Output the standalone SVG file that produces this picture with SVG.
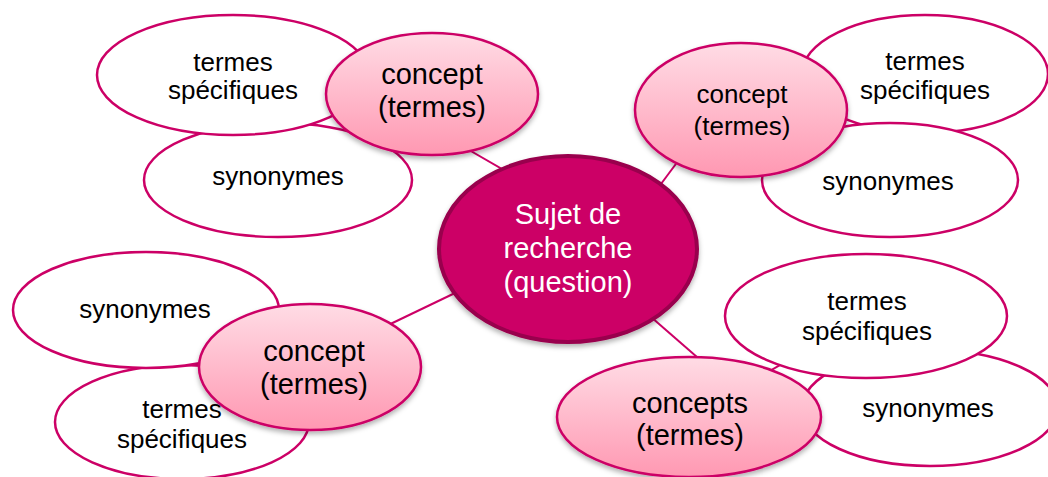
<svg xmlns="http://www.w3.org/2000/svg" width="1048" height="477" viewBox="0 0 1048 477">
<defs>
<linearGradient id="pink" x1="0" y1="0" x2="0" y2="1">
<stop offset="0" stop-color="#FFDCE5"/>
<stop offset="1" stop-color="#FF98B2"/>
</linearGradient>
<filter id="sh" x="-20%" y="-20%" width="140%" height="150%">
<feDropShadow dx="0" dy="3" stdDeviation="2.5" flood-color="#000" flood-opacity="0.3"/>
</filter>
</defs>
<style>
.sat{fill:#fff;stroke:#CC0066;stroke-width:2.5}
.con{fill:url(#pink);stroke:#CC0066;stroke-width:2.5;filter:url(#sh)}
.ctr{fill:#CC0066;stroke:#99004D;stroke-width:4;filter:url(#sh)}
.link{stroke:#CC0066;stroke-width:2;fill:none}
text{font-family:"Liberation Sans",Arial,sans-serif;text-anchor:middle;fill:#000}
.t26{font-size:26px}
.t29{font-size:29px}
.w{fill:#fff}
</style>
<rect width="1048" height="477" fill="#fff"/>
<g id="connectors">
<line class="link" x1="450" y1="139" x2="540" y2="191"/>
<line class="link" x1="655" y1="192" x2="690" y2="145"/>
<line class="link" x1="380" y1="329" x2="480" y2="281"/>
<line class="link" x1="620" y1="290" x2="705" y2="364"/>
<line class="link" x1="432" y1="94" x2="233" y2="75"/>
<line class="link" x1="432" y1="94" x2="278" y2="180"/>
<line class="link" x1="741" y1="110" x2="925" y2="74"/>
<line class="link" x1="741" y1="110" x2="890" y2="180"/>
<line class="link" x1="310" y1="367" x2="146" y2="310"/>
<line class="link" x1="310" y1="367" x2="182" y2="420"/>
<line class="link" x1="689" y1="417" x2="866" y2="316"/>
<line class="link" x1="689" y1="417" x2="928" y2="408"/>
</g>
<g id="tl-synonymes">
<ellipse class="sat" cx="278" cy="180" rx="134" ry="57"/>
<text class="t26" x="278" y="185">synonymes</text>
</g>
<g id="tl-termes">
<ellipse class="sat" cx="233" cy="75" rx="136" ry="60"/>
<text class="t26" x="233" y="71">termes</text>
<text class="t26" x="233" y="99">spécifiques</text>
</g>
<g id="tl-concept">
<ellipse class="con" cx="432" cy="94" rx="106" ry="61"/>
<text class="t29" x="432" y="84">concept</text>
<text class="t29" x="432" y="117">(termes)</text>
</g>
<g id="tr-termes">
<ellipse class="sat" cx="925" cy="74" rx="123" ry="59"/>
<text class="t26" x="925" y="70">termes</text>
<text class="t26" x="925" y="99">spécifiques</text>
</g>
<g id="tr-synonymes">
<ellipse class="sat" cx="890" cy="180" rx="128" ry="57"/>
<text class="t26" x="888" y="190">synonymes</text>
</g>
<g id="tr-concept">
<ellipse class="con" cx="741" cy="110" rx="106" ry="67"/>
<text class="t26" x="742" y="103">concept</text>
<text class="t26" x="742" y="135">(termes)</text>
</g>
<g id="bl-termes">
<ellipse class="sat" cx="182" cy="422" rx="127" ry="57"/>
<text class="t26" x="182" y="418">termes</text>
<text class="t26" x="182" y="448">spécifiques</text>
</g>
<g id="bl-synonymes">
<ellipse class="sat" cx="146" cy="310" rx="133" ry="58"/>
<text class="t26" x="145" y="318">synonymes</text>
</g>
<g id="bl-concept">
<ellipse class="con" cx="310" cy="367" rx="111" ry="63"/>
<text class="t29" x="314" y="361">concept</text>
<text class="t29" x="314" y="394">(termes)</text>
</g>
<g id="br-synonymes">
<ellipse class="sat" cx="930" cy="408" rx="128" ry="58"/>
<text class="t26" x="928" y="417">synonymes</text>
</g>
<g id="br-termes">
<ellipse class="sat" cx="866" cy="316" rx="141" ry="62"/>
<text class="t26" x="867" y="310">termes</text>
<text class="t26" x="867" y="340">spécifiques</text>
</g>
<g id="br-concept">
<ellipse class="con" cx="689" cy="417" rx="132" ry="60"/>
<text class="t29" x="690" y="413">concepts</text>
<text class="t29" x="690" y="445">(termes)</text>
</g>
<g id="center">
<ellipse class="ctr" cx="568" cy="249" rx="129" ry="93"/>
<text class="t29 w" x="568" y="224">Sujet de</text>
<text class="t29 w" x="568" y="258">recherche</text>
<text class="t29 w" x="568" y="292">(question)</text>
</g>
</svg>
